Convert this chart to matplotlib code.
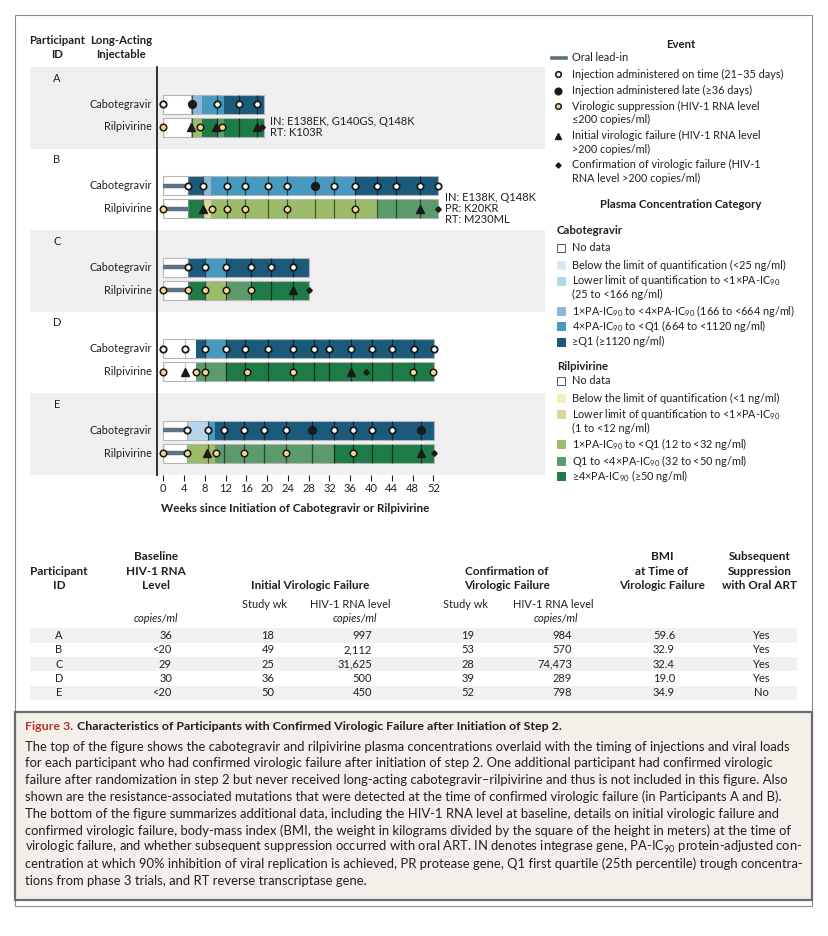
import numpy as np
import matplotlib
matplotlib.use('Agg')
import matplotlib.pyplot as plt
from matplotlib.patches import Rectangle

plt.rcParams['font.family'] = ['Lato', 'DejaVu Sans']
plt.rcParams['mathtext.fontset'] = 'custom'
plt.rcParams['mathtext.rm'] = 'Lato'
plt.rcParams['mathtext.it'] = 'Lato:italic'
plt.rcParams['mathtext.bf'] = 'Lato:bold'
plt.rcParams['text.color'] = '#231f20'

# region data
participants = ['A', 'B', 'C', 'D', 'E']

# concentration category per segment: 0 no data, 1 <LOQ, 2 LLOQ-<1x, 3, 4, 5 (highest)
cab_edges = {
    'A': [0, 5.4, 7.5, 11.6, 19.3],
    'B': [0, 4.8, 7.7, 9.2, 36.9, 52.9],
    'C': [0, 4.8, 8.0, 12.0, 28.1],
    'D': [0, 6.3, 8.0, 12.0, 52.2],
    'E': [0, 4.5, 8.55, 10.0, 52.1],
}
cab_levels = {
    'A': [0, 3, 4, 5],
    'B': [0, 5, 3, 4, 5],
    'C': [0, 5, 4, 5],
    'D': [0, 5, 4, 5],
    'E': [0, 2, 4, 5],
}
rpv_edges = {
    'A': [0, 0.4, 5.4, 7.5, 10.5, 11.6, 19.3],
    'B': [0, 0.4, 4.8, 7.7, 9.2, 41.3, 52.9],
    'C': [0, 0.4, 4.8, 8.0, 12.0, 16.9, 28.1],
    'D': [0, 0.4, 6.3, 12.0, 52.2],
    'E': [0, 0.4, 4.5, 10.0, 32.8, 52.1],
}
rpv_levels = {
    'A': [1, 0, 3, 5, 4, 5],
    'B': [1, 0, 5, 2, 3, 4],
    'C': [1, 0, 5, 3, 4, 5],
    'D': [1, 0, 4, 5],
    'E': [1, 0, 3, 4, 5],
}
oral_lead_in = {'A': 0, 'B': 4.8, 'C': 4.8, 'D': 0, 'E': 4.5}

cab_on_time = {
    'A': [0, 10.4, 14.6, 18.1],
    'B': [4.8, 7.7, 12.2, 15.7, 20.1, 23.9, 32.9, 36.9, 41.2, 44.8, 49.5, 52.9],
    'C': [4.8, 8.0, 12.0, 16.9, 20.7, 25.0],
    'D': [0, 4.2, 8.0, 12.0, 15.7, 20.1, 25.0, 29.1, 32.0, 36.2, 40.1, 44.1, 48.2, 52.2],
    'E': [4.5, 8.55, 11.7, 15.6, 19.4, 23.6, 32.8, 36.6, 40.1, 44.0],
}
cab_late = {'A': [5.5], 'B': [29.2], 'C': [], 'D': [], 'E': [28.7, 49.6]}

rpv_suppressed = {
    'A': [0, 7.0, 11.3],
    'B': [0, 9.3, 12.2, 15.7, 23.9, 36.9],
    'C': [0, 4.8, 8.0, 12.0, 16.9],
    'D': [0, 6.3, 8.0, 16.1, 25.0, 48.1, 51.9],
    'E': [0, 4.5, 10.1, 15.6, 23.6, 36.6],
}
rpv_initial_fail = {
    'A': [5.4, 10.2, 18.0],
    'B': [7.7, 49.4],
    'C': [25.0],
    'D': [4.1, 36.2],
    'E': [8.35, 49.6],
}
rpv_confirmed_fail = {'A': [19.1], 'B': [52.9], 'C': [28.0], 'D': [39.0], 'E': [52.1]}

mutations = {
    'A': ['IN: E138EK, G140GS, Q148K', 'RT: K103R'],
    'B': ['IN: E138K, Q148K', 'PR: K20KR', 'RT: M230ML'],
}

week_ticks = list(range(0, 53, 4))

cab_colors = ['white', '#d8e8f5', '#b4d7ec', '#8fb6d9', '#4799bf', '#1b5a7b']
rpv_colors = ['white', '#f6eebc', '#dcd69c', '#9cbc69', '#5b9a6b', '#1e7a46']

event_labels = [
    ['Oral lead-in'],
    ['Injection administered on time (21\u201335 days)'],
    ['Injection administered late (\u226536 days)'],
    ['Virologic suppression (HIV-1 RNA level', '\u2264200 copies/ml)'],
    ['Initial virologic failure (HIV-1 RNA level', '>200 copies/ml)'],
    ['Confirmation of virologic failure (HIV-1', 'RNA level >200 copies/ml)'],
]
cab_legend = [
    ['No data'],
    ['Below the limit of quantification (<25 ng/ml)'],
    ['Lower limit of quantification to <1\u00d7PA-IC$_{90}$', '(25 to <166 ng/ml)'],
    ['1\u00d7PA-IC$_{90}$ to <4\u00d7PA-IC$_{90}$ (166 to <664 ng/ml)'],
    ['4\u00d7PA-IC$_{90}$ to <Q1 (664 to <1120 ng/ml)'],
    ['\u2265Q1 (\u22651120 ng/ml)'],
]
rpv_legend = [
    ['No data'],
    ['Below the limit of quantification (<1 ng/ml)'],
    ['Lower limit of quantification to <1\u00d7PA-IC$_{90}$', '(1 to <12 ng/ml)'],
    ['1\u00d7PA-IC$_{90}$ to <Q1 (12 to <32 ng/ml)'],
    ['Q1 to <4\u00d7PA-IC$_{90}$ (32 to <50 ng/ml)'],
    ['\u22654\u00d7PA-IC$_{90}$ (\u226550 ng/ml)'],
]

baseline_rna = ['36', '<20', '29', '30', '<20']
initial_wk = ['18', '49', '25', '36', '50']
initial_rna = ['997', '2,112', '31,625', '500', '450']
confirm_wk = ['19', '53', '28', '39', '52']
confirm_rna = ['984', '570', '74,473', '289', '798']
bmi = ['59.6', '32.9', '32.4', '19.0', '34.9']
oral_art = ['Yes', 'Yes', 'Yes', 'Yes', 'No']

caption_title = 'Characteristics of Participants with Confirmed Virologic Failure after Initiation of Step 2.'
caption_lines = [
    'The top of the figure shows the cabotegravir and rilpivirine plasma concentrations overlaid with the timing of injections and viral loads',
    'for each participant who had confirmed virologic failure after initiation of step 2. One additional participant had confirmed virologic',
    'failure after randomization in step 2 but never received long-acting cabotegravir\u2013rilpivirine and thus is not included in this figure. Also',
    'shown are the resistance-associated mutations that were detected at the time of confirmed virologic failure (in Participants A and B).',
    'The bottom of the figure summarizes additional data, including the HIV-1 RNA level at baseline, details on initial virologic failure and',
    'confirmed virologic failure, body-mass index (BMI, the weight in kilograms divided by the square of the height in meters) at the time of',
    'virologic failure, and whether subsequent suppression occurred with oral ART. IN denotes integrase gene, PA-IC$_{90}$ protein-adjusted con-',
    'centration at which 90% inhibition of viral replication is achieved, PR protease gene, Q1 first quartile (25th percentile) trough concentra-',
    'tions from phase 3 trials, and RT reverse transcriptase gene.',
]
# endregion

# region figure and background layer (pixel coords)
W, H = 829, 936
fig = plt.figure(figsize=(W / 100, H / 100), dpi=100)
bg = fig.add_axes([0, 0, 1, 1])
bg.set_xlim(0, W)
bg.set_ylim(H, 0)
bg.axis('off')

dark = '#231f20'
bg.add_patch(Rectangle((15, 15), 797, 891, fill=False, ec='#8c8c8c', lw=0.8))
bg.add_patch(Rectangle((15, 712), 797, 188, fc='#f3efe9', ec='#6e6e6e', lw=1.6))

bold = dict(fontweight='bold', ha='center', va='center', fontsize=8.2)
bg.text(57, 40, 'Participant', **bold)
bg.text(57, 54, 'ID', **bold)
bg.text(121, 40, 'Long-Acting', **bold)
bg.text(121, 54, 'Injectable', **bold)
# endregion

# region chart
ax_l, ax_r, ax_t, ax_b = 157, 545, 67, 475
x0_px, x52_px = 163.3, 433.3
ppw = (x52_px - x0_px) / 52
panel_h = (ax_b - ax_t) / len(participants)
bar_h = 19

for i, p in enumerate(participants):
    top = ax_t + i * panel_h
    if i % 2 == 0:
        bg.add_patch(Rectangle((30, top), 515, panel_h, fc='#efeff1', ec='none', zorder=0))
    bg.text(57, top + 11, p, ha='center', va='center', fontsize=8)
    bg.text(152, top + 37, 'Cabotegravir', ha='right', va='center', fontsize=7.8)
    bg.text(152, top + 60, 'Rilpivirine', ha='right', va='center', fontsize=7.8)

ax = fig.add_axes([ax_l / W, 1 - ax_b / H, (ax_r - ax_l) / W, (ax_b - ax_t) / H])
ax.set_facecolor('none')
ax.set_xlim((ax_l - x0_px) / ppw, (ax_r - x0_px) / ppw)
ax.set_ylim(ax_b, ax_t)

for i, p in enumerate(participants):
    top = ax_t + i * panel_h
    yc, yr = top + 37, top + 60
    injections = sorted(cab_on_time[p] + cab_late[p])
    rows = [(yc, cab_edges[p], cab_levels[p], cab_colors),
            (yr, rpv_edges[p], rpv_levels[p], rpv_colors)]
    for y, edges, levels, colors in rows:
        lefts = np.array(edges[:-1])
        widths = np.diff(edges)
        ax.barh([y] * len(lefts), widths, left=lefts, height=bar_h,
                color=[colors[l] for l in levels], linewidth=0, zorder=2)
        ax.barh(y, edges[-1] - edges[0], left=edges[0], height=bar_h, fill=False,
                edgecolor='#b5b5b5', linewidth=0.8, zorder=2)
        end = edges[-1]
        for t in injections:
            if 0.3 < t < end - 0.3:
                k = int(np.searchsorted(edges, t)) - 1
                c, a = ('#9a9a9a', 0.6) if levels[k] == 0 else ('black', 0.55)
                ax.vlines(t, y - bar_h / 2, y + bar_h / 2, color=c, alpha=a, lw=0.9, zorder=3)
        if oral_lead_in[p] > 0:
            ax.plot([0, oral_lead_in[p]], [y, y], color='#5c7282', lw=3.2,
                    solid_capstyle='butt', zorder=4)

    ax.plot(cab_on_time[p], [yc] * len(cab_on_time[p]), 'o', ms=4.6, mfc='white',
            mec='#1a1a1a', mew=1.3, zorder=5)
    ax.plot(cab_late[p], [yc] * len(cab_late[p]), 'o', ms=5.6, mfc='#1a1a1a',
            mec='#1a1a1a', zorder=5)
    ax.plot(rpv_suppressed[p], [yr] * len(rpv_suppressed[p]), 'o', ms=4.7, mfc='#f9d48f',
            mec='#1a1a1a', mew=1.1, zorder=5)
    ax.plot(rpv_initial_fail[p], [yr] * len(rpv_initial_fail[p]), '^', ms=5.4,
            color='#1a1a1a', zorder=5)
    ax.plot(rpv_confirmed_fail[p], [yr] * len(rpv_confirmed_fail[p]), 'D', ms=2.8,
            color='#1a1a1a', zorder=5)

    if p in mutations:
        lines = mutations[p]
        n = len(lines)
        for j, s in enumerate(lines):
            ax.text(rpv_edges[p][-1] + 1.3, yr + (j - (n - 1) / 2) * 11.3, s,
                    ha='left', va='center', fontsize=8, zorder=6)

ax.set_xticks(week_ticks)
ax.set_xticklabels([str(t) for t in week_ticks])
ax.tick_params(axis='x', length=4, width=0.8, color=dark, labelsize=8, pad=1.5, labelcolor=dark)
ax.set_yticks([])
for s in ['top', 'right', 'bottom']:
    ax.spines[s].set_visible(False)
ax.spines['left'].set_color(dark)
ax.spines['left'].set_linewidth(1.3)

bg.text(295, 509, 'Weeks since Initiation of Cabotegravir or Rilpivirine', ha='center',
        va='center', fontsize=8.4, fontweight='bold')
# endregion

# region legend
mx, tx = 558, 572
bg.text(681, 44, 'Event', **bold)
ev_y = [57.5, 74, 90.5, 106, 135.5, 164.5]
bg.plot([552, 566], [ev_y[0], ev_y[0]], color='#5c7282', lw=2.6)
bg.plot(mx, ev_y[1], 'o', ms=4.0, mfc='white', mec='#1a1a1a', mew=1.2)
bg.plot(mx, ev_y[2], 'o', ms=4.8, color='#1a1a1a')
bg.plot(mx, ev_y[3], 'o', ms=4.0, mfc='#f9d48f', mec='#1a1a1a', mew=1.1)
bg.plot(mx, ev_y[4], '^', ms=4.8, color='#1a1a1a')
bg.plot(mx, ev_y[5], 'D', ms=2.6, color='#1a1a1a')
for y, lines in zip(ev_y, event_labels):
    for j, s in enumerate(lines):
        bg.text(tx, y + j * 13.5, s, ha='left', va='center', fontsize=7.8)

bg.text(681, 205, 'Plasma Concentration Category', **bold)

def conc_legend(title_y, title, labels, colors, ys):
    bg.text(557, title_y, title, ha='left', va='center', fontsize=8.2, fontweight='bold')
    for y, lines, c in zip(ys, labels, colors):
        bg.add_patch(Rectangle((557, y - 4), 8, 8, fc=c,
                               ec='#555555' if c == 'white' else c, lw=0.7))
        for j, s in enumerate(lines):
            bg.text(tx, y + j * 14, s, ha='left', va='center', fontsize=7.8)

conc_legend(230.7, 'Cabotegravir', cab_legend, cab_colors, [247.7, 265, 280.7, 311, 326, 341.7])
conc_legend(366.7, 'Rilpivirine', rpv_legend, rpv_colors, [381, 398.3, 414, 444.3, 460.7, 476])
# endregion

# region table
hdr = dict(fontsize=8.5, fontweight='bold', ha='center', va='center')
def header(x, lines):
    for j, s in enumerate(lines):
        bg.text(x, 585.7 - (len(lines) - 1 - j) * 14.5, s, **hdr)

header(59, ['Participant', 'ID'])
header(156, ['Baseline', 'HIV-1 RNA', 'Level'])
header(310, ['Initial Virologic Failure'])
header(507, ['Confirmation of', 'Virologic Failure'])
header(662, ['BMI', 'at Time of', 'Virologic Failure'])
header(760, ['Subsequent', 'Suppression', 'with Oral ART'])

for x, s in [(265, 'Study wk'), (350, 'HIV-1 RNA level'), (466, 'Study wk'), (553.5, 'HIV-1 RNA level')]:
    bg.text(x, 604, s, ha='center', va='center', fontsize=7.9)
for x in [156, 355, 556]:
    bg.text(x, 619, 'copies/ml', ha='center', va='center', fontsize=7.9, style='italic')

row_y0, row_dy = 635.5, 14.3
for i, p in enumerate(participants):
    y = row_y0 + i * row_dy
    if i % 2 == 0:
        bg.add_patch(Rectangle((30, y - row_dy / 2), 767, row_dy, fc='#f1f1f1', ec='none', zorder=0))
    cells = [(59, p, 'center'), (172, baseline_rna[i], 'right'), (268, initial_wk[i], 'center'),
             (372, initial_rna[i], 'right'), (468, confirm_wk[i], 'center'),
             (572, confirm_rna[i], 'right'), (664, bmi[i], 'center'), (761, oral_art[i], 'center')]
    for x, s, ha in cells:
        bg.text(x, y, s, ha=ha, va='center', fontsize=8)
# endregion

# region caption
t1 = bg.text(25, 726.7, 'Figure 3.', ha='left', va='center', fontsize=8.9,
             fontweight='bold', color='#b5342c')
bg.annotate(caption_title, xy=(1, 0.5), xycoords=t1, xytext=(3, 0), textcoords='offset points',
            ha='left', va='center', fontsize=8.9, fontweight='bold')
for k, s in enumerate(caption_lines):
    bg.text(25, 746.7 + k * 16.75, s, ha='left', va='center', fontsize=9.4)
# endregion

fig.savefig('out.png', dpi=100)
